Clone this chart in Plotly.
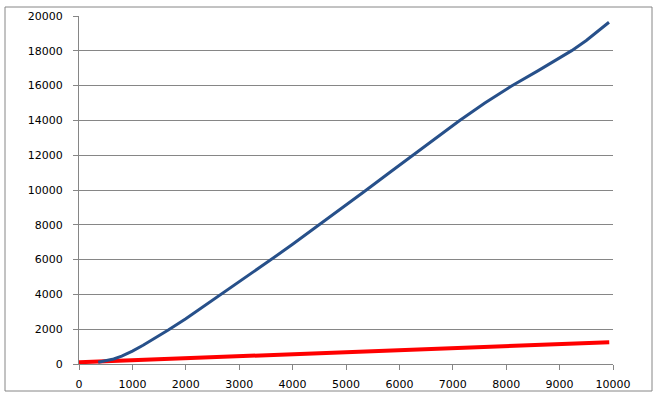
import plotly.graph_objects as go

# Data
blue_x = [360, 500, 650, 800, 1000, 1200, 1400, 1672, 2000, 2640, 3000, 3577,
          4000, 4494, 5000, 5356, 5824, 6230, 6700, 7122, 7600, 8100, 8600,
          9000, 9226, 9500, 9700, 9925]
blue_y = [100, 175, 290, 450, 740, 1080, 1440, 1950, 2600, 3950, 4720, 5960,
          6880, 7980, 9120, 9940, 11020, 11950, 13020, 13980, 15000, 15980,
          16860, 17580, 18010, 18590, 19060, 19640]

red_x = [0, 1000, 2000, 3000, 4000, 5000, 6000, 7000, 8000, 9000, 9930]
red_y = [100, 215, 330, 440, 555, 670, 790, 905, 1030, 1140, 1250]

x_ticks = list(range(0, 10001, 1000))
y_ticks = list(range(0, 20001, 2000))

W, H = 656, 400
ML, MR, MT, MB = 79, 43, 16, 36
pw, ph = W - ML - MR, H - MT - MB

fig = go.Figure()
fig.add_trace(go.Scatter(x=red_x, y=red_y, mode="lines",
                         line=dict(color="#FF0000", width=4), showlegend=False))
fig.add_trace(go.Scatter(x=blue_x, y=blue_y, mode="lines",
                         line=dict(color="#27508A", width=3),
                         showlegend=False))

axis_font = dict(family="DejaVu Sans, Verdana, sans-serif", size=11, color="#000000")

fig.update_xaxes(range=[0, 10000], tickvals=x_ticks, ticktext=[str(v) for v in x_ticks],
                 showgrid=False, zeroline=False, showline=True, linecolor="#868686",
                 linewidth=1, ticks="outside", ticklen=5, tickcolor="#868686",
                 tickfont=axis_font, ticklabelstandoff=5, fixedrange=True)
fig.update_yaxes(range=[0, 20000], tickvals=y_ticks, ticktext=[str(v) for v in y_ticks],
                 showgrid=True, gridcolor="#868686", gridwidth=1, zeroline=False,
                 showline=True, linecolor="#868686", linewidth=1, ticks="outside",
                 ticklen=5, tickcolor="#868686", tickfont=axis_font,
                 ticklabelstandoff=8, fixedrange=True)

# chart-area border
bx0, bx1, by0, by1 = 5, 652, 7, 391
fig.add_shape(type="rect", xref="paper", yref="paper",
              x0=(bx0 - ML) / pw, x1=(bx1 - ML) / pw,
              y0=(H - MB - by1) / ph, y1=(H - MB - by0) / ph,
              line=dict(color="#868686", width=1), fillcolor="rgba(0,0,0,0)", layer="below")

fig.update_layout(width=W, height=H, margin=dict(l=ML, r=MR, t=MT, b=MB, autoexpand=False),
                  paper_bgcolor="white", plot_bgcolor="white", showlegend=False)

fig.write_html("out.html", config={"displayModeBar": False},
               post_script="document.body.style.margin='0';document.body.style.padding='0';")
